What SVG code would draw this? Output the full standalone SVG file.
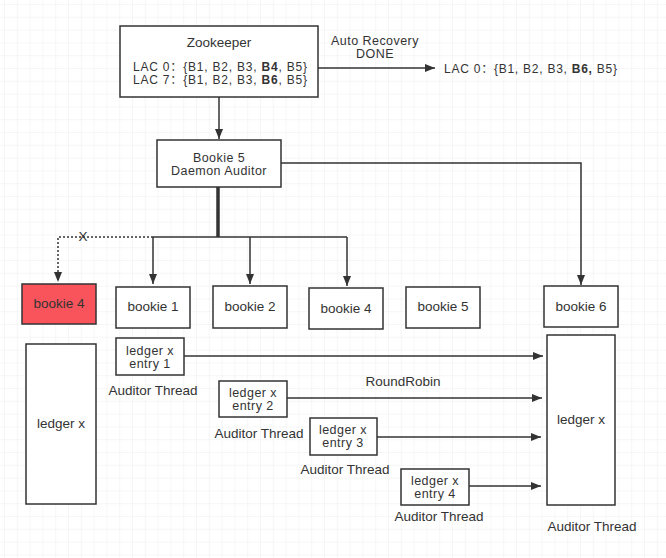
<svg xmlns="http://www.w3.org/2000/svg" width="666" height="558" viewBox="0 0 666 558">
<style>
text{font-family:"Liberation Sans","Noto Sans CJK SC",sans-serif;font-size:13.5px;fill:#333;}
.c{text-anchor:middle;}
.lac{font-size:12px;}
.two{font-size:12.5px;letter-spacing:0.45px;}
.box{fill:#fff;stroke:#333;stroke-width:1.5;}
.ln{fill:none;stroke:#333;stroke-width:1.5;}
</style>
<defs>
<pattern id="grid" x="4" y="4" width="12.8" height="12.8" patternUnits="userSpaceOnUse">
<path d="M0 0H12.8M0 0V12.8" fill="none" stroke="#eeeeee" stroke-width="1"/>
</pattern>
<marker id="ah" viewBox="0 0 10 8" refX="10" refY="4" markerWidth="10" markerHeight="8" markerUnits="userSpaceOnUse" orient="auto">
<path d="M0 0L10 4L0 8z" fill="#333"/>
</marker>
</defs>
<rect width="666" height="558" fill="#fff"/>
<rect width="666" height="558" fill="url(#grid)"/>

<g id="connectors">
<path class="ln" d="M318 68H435" marker-end="url(#ah)"/>
<path class="ln" d="M219 97V139" marker-end="url(#ah)"/>
<path d="M218 187V237" stroke="#333" stroke-width="3.5" fill="none"/>
<path class="ln" d="M153 237H347"/>
<path class="ln" d="M153 237V284" marker-end="url(#ah)"/>
<path class="ln" d="M250 237V284" marker-end="url(#ah)"/>
<path class="ln" d="M347 237V286" marker-end="url(#ah)"/>
<path class="ln" d="M153 237H58V282" stroke-dasharray="2 2" marker-end="url(#ah)"/>
<path class="ln" d="M281 163H581V285" marker-end="url(#ah)"/>
<path class="ln" d="M184 356H543" marker-end="url(#ah)"/>
<path class="ln" d="M287 398H542" marker-end="url(#ah)"/>
<path class="ln" d="M377 437H541" marker-end="url(#ah)"/>
<path class="ln" d="M469 486H541" marker-end="url(#ah)"/>
</g>

<g id="labels">
<text class="c two" x="375" y="45">Auto Recovery</text>
<text class="c two" x="375" y="58">DONE</text>
<text class="lac" x="444" y="73" textLength="173" lengthAdjust="spacing">LAC 0：{B1, B2, B3, <tspan font-weight="bold">B6,</tspan> B5}</text>
<text class="c" x="83" y="241" font-size="14">X</text>
<text class="c" x="403" y="386">RoundRobin</text>
<text class="c" x="153" y="395">Auditor Thread</text>
<text class="c" x="259" y="438">Auditor Thread</text>
<text class="c" x="345" y="474">Auditor Thread</text>
<text class="c" x="439" y="521">Auditor Thread</text>
<text class="c" x="592" y="531">Auditor Thread</text>
</g>

<g id="zookeeper">
<rect class="box" x="120" y="26" width="198" height="71"/>
<text class="c" x="219" y="47">Zookeeper</text>
<text class="lac" x="133" y="71" textLength="174" lengthAdjust="spacing">LAC 0：{B1, B2, B3, <tspan font-weight="bold">B4</tspan>, B5}</text>
<text class="lac" x="133" y="84" textLength="174" lengthAdjust="spacing">LAC 7：{B1, B2, B3, <tspan font-weight="bold">B6</tspan>, B5}</text>
</g>

<g id="bookie5auditor">
<rect class="box" x="157" y="140" width="124" height="47"/>
<text class="c two" x="219" y="162">Bookie 5</text>
<text class="c two" x="219" y="175">Daemon Auditor</text>
</g>

<g id="bookie4red">
<rect x="22" y="284" width="74" height="40" fill="#f9545b" stroke="#333" stroke-width="1.5"/>
<text class="c" x="59" y="308">bookie 4</text>
</g>
<g id="bookie1">
<rect class="box" x="116" y="287" width="74" height="41"/>
<text class="c" x="153" y="311">bookie 1</text>
</g>
<g id="bookie2">
<rect class="box" x="213" y="286" width="74" height="42"/>
<text class="c" x="250" y="311">bookie 2</text>
</g>
<g id="bookie4">
<rect class="box" x="309" y="288" width="74" height="41"/>
<text class="c" x="346" y="313">bookie 4</text>
</g>
<g id="bookie5">
<rect class="box" x="406" y="287" width="74" height="41"/>
<text class="c" x="443" y="311">bookie 5</text>
</g>
<g id="bookie6">
<rect class="box" x="544" y="286" width="74" height="41"/>
<text class="c" x="581" y="311">bookie 6</text>
</g>

<g id="ledgerLeft">
<rect class="box" x="26" y="344" width="70" height="160"/>
<text class="c" x="61" y="428">ledger x</text>
</g>
<g id="entry1">
<rect class="box" x="116" y="338" width="68" height="37"/>
<text class="c two" x="150" y="355">ledger x</text>
<text class="c two" x="150" y="368">entry 1</text>
</g>
<g id="entry2">
<rect class="box" x="219" y="381" width="68" height="36"/>
<text class="c two" x="253" y="397">ledger x</text>
<text class="c two" x="253" y="410">entry 2</text>
</g>
<g id="entry3">
<rect class="box" x="310" y="418" width="67" height="37"/>
<text class="c two" x="343" y="434">ledger x</text>
<text class="c two" x="343" y="447">entry 3</text>
</g>
<g id="entry4">
<rect class="box" x="401" y="469" width="68" height="36"/>
<text class="c two" x="435" y="485">ledger x</text>
<text class="c two" x="435" y="498">entry 4</text>
</g>
<g id="ledgerRight">
<rect class="box" x="547" y="335" width="68" height="170"/>
<text class="c" x="581" y="424">ledger x</text>
</g>
</svg>
